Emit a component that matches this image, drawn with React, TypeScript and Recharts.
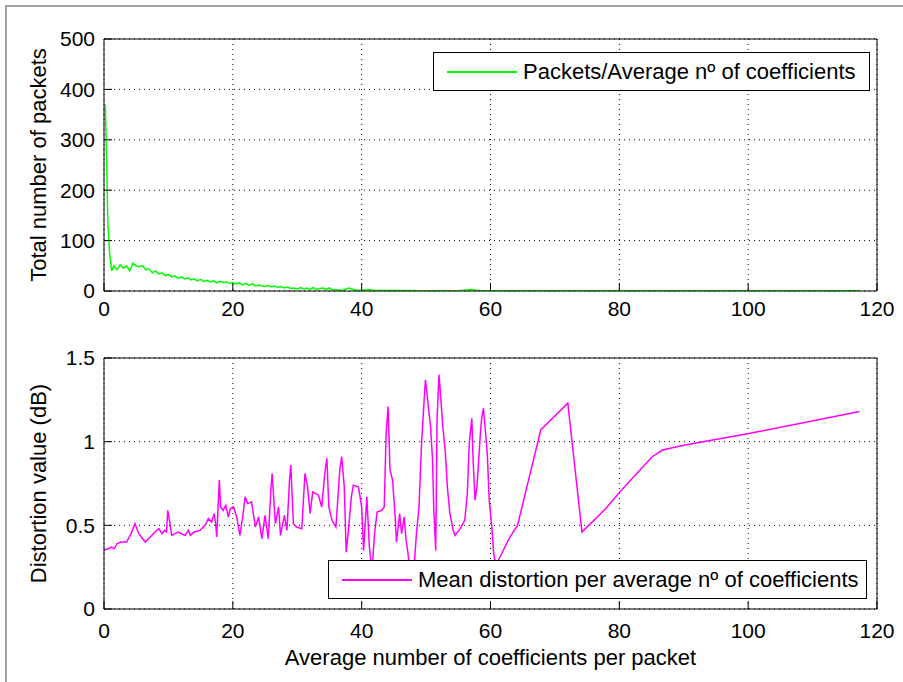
import { CartesianGrid, Line, LineChart, XAxis, YAxis } from "recharts";

const FONT = "'Liberation Sans', Arial, Helvetica, sans-serif";

const xTicks = [0, 20, 40, 60, 80, 100, 120];
const packetTicks = [0, 100, 200, 300, 400, 500];
const distortionTicks = [0, 0.5, 1, 1.5];

// top panel: packets per average number of coefficients
const packetX = [
  0.2, 0.4, 0.6, 0.9, 1.2, 1.5, 2, 2.5, 3, 3.5, 4, 4.5, 5, 5.5, 6, 6.5, 7, 7.5, 8, 8.5,
  9, 9.5, 10, 10.5, 11, 11.5, 12, 12.5, 13, 13.5, 14, 14.5, 15, 15.5, 16, 16.5, 17, 17.5, 18, 18.5,
  19, 19.5, 20, 20.5, 21, 21.5, 22, 22.5, 23, 23.5, 24, 24.5, 25, 25.5, 26, 26.5, 27, 27.5, 28, 28.5,
  29, 29.5, 30, 30.5, 31, 31.5, 32, 32.5, 33, 33.5, 34, 34.5, 35, 35.5, 36, 37, 38, 39, 40, 41,
  42, 45, 50, 55, 57, 58, 60, 70, 80, 90, 100, 117.2,
];
const packetY = [
  370, 260, 135, 70, 40, 50, 42, 52, 45, 50, 40, 55, 50, 48, 50, 42, 44, 36, 40, 34,
  36, 30, 33, 28, 30, 25, 28, 24, 26, 22, 24, 20, 23, 19, 21, 18, 20, 16, 19, 17,
  18, 15, 17, 14, 16, 12, 15, 11, 14, 10, 12, 10, 9, 11, 8, 10, 7, 9, 6, 8,
  5, 6, 4, 7, 4, 6, 3, 7, 3, 5, 6, 3, 6, 2, 3, 1, 6, 2, 1, 3,
  1, 1, 0.5, 0.5, 3, 1, 0.5, 0.5, 0.3, 0.3, 0.3, 0.3,
];

// bottom panel: mean distortion per average number of coefficients
const distortionX = [
  0, 0.6, 1.2, 1.6, 2, 2.6, 3.5, 4.2, 4.8, 5.4, 6.4, 7.2, 7.9, 8.5, 9, 9.4, 9.7, 9.9, 10.2, 10.5,
  11, 11.5, 12, 12.6, 13.1, 13.4, 14, 14.9, 15.7, 16.2, 16.7, 17.1, 17.3, 17.5, 17.9, 18.1, 18.5, 18.9, 19.3, 19.6,
  20.1, 20.6, 21.1, 21.6, 21.9, 22.3, 22.9, 23.5, 24, 24.5, 25, 25.5, 25.9, 26.1, 26.6, 27.1, 27.4, 28, 28.4, 28.8,
  29, 29.4, 29.9, 30.7, 31.2, 31.6, 32, 32.4, 33.3, 33.8, 34.3, 34.6, 34.9, 35.4, 36, 36.6, 36.9, 37.3, 37.6, 37.9,
  38.4, 38.7, 39.5, 40, 40.3, 40.8, 41.2, 41.6, 42, 42.4, 43.1, 43.5, 43.8, 44.1, 44.4, 44.8, 45.2, 45.4, 45.9, 46.2,
  46.6, 46.9, 47.2, 47.5, 48, 48.5, 48.9, 49.3, 49.7, 49.9, 50.1, 50.4, 50.7, 51, 51.2, 51.5, 51.7, 52, 52.3, 52.6,
  53, 53.3, 53.7, 54.2, 54.5, 55.3, 56, 56.4, 56.7, 57.1, 57.3, 57.6, 57.9, 58.1, 58.4, 58.6, 58.9, 59.2, 59.5, 59.8,
  60.2, 60.5, 60.8, 61.2, 63, 64.2, 67.8, 72, 74.2, 77.9, 80.1, 85.1, 86.7, 90.2, 100.3, 117.3,
];
const distortionY = [
  0.35, 0.36, 0.37, 0.36, 0.39, 0.4, 0.4, 0.45, 0.51, 0.45, 0.4, 0.43, 0.46, 0.48, 0.45, 0.47, 0.46, 0.59, 0.52, 0.44,
  0.45, 0.46, 0.45, 0.44, 0.47, 0.44, 0.46, 0.47, 0.5, 0.54, 0.52, 0.57, 0.52, 0.43, 0.77, 0.61, 0.59, 0.62, 0.55, 0.6,
  0.61, 0.55, 0.44, 0.57, 0.67, 0.63, 0.64, 0.49, 0.55, 0.42, 0.56, 0.42, 0.71, 0.81, 0.51, 0.61, 0.44, 0.56, 0.47, 0.77,
  0.86, 0.51, 0.49, 0.48, 0.81, 0.73, 0.57, 0.7, 0.68, 0.61, 0.82, 0.9, 0.61, 0.53, 0.49, 0.83, 0.91, 0.73, 0.34, 0.45,
  0.67, 0.74, 0.73, 0.61, 0.35, 0.67, 0.37, 0.22, 0.45, 0.58, 0.59, 0.61, 1.05, 1.21, 0.83, 0.77, 0.55, 0.4, 0.57, 0.45,
  0.55, 0.41, 0.33, 0.22, 0.18, 0.45, 0.61, 0.99, 1.25, 1.37, 1.3, 1.19, 1.09, 0.89, 0.59, 0.35, 1.13, 1.4, 1.25, 1.09,
  0.93, 0.73, 0.57, 0.47, 0.44, 0.48, 0.53, 0.69, 0.99, 1.14, 0.89, 0.65, 0.73, 0.85, 1.03, 1.13, 1.2, 1.07, 0.93, 0.65,
  0.49, 0.33, 0.27, 0.29, 0.43, 0.5, 1.07, 1.23, 0.46, 0.6, 0.7, 0.91, 0.95, 0.98, 1.05, 1.18,
];

const packetData = packetX.map((x, i) => ({ x, y: packetY[i] }));
const distortionData = distortionX.map((x, i) => ({ x, y: distortionY[i] }));

function BottomTick(props: any) {
  const { x, y, payload, gap } = props;
  const axisY = y - gap;
  return (
    <g>
      <line x1={x} y1={axisY} x2={x} y2={axisY - 8} stroke="#000" />
      <text x={x} y={y} dy="0.71em" textAnchor="middle" fontSize={21} fill="#000" fontFamily={FONT}>
        {payload.value}
      </text>
    </g>
  );
}

function LeftTick(props: any) {
  const { x, y, payload, gap } = props;
  const axisX = x + gap;
  return (
    <g>
      <line x1={axisX} y1={y} x2={axisX + 8} y2={y} stroke="#000" />
      <text x={x} y={y} dy="0.35em" textAnchor="end" fontSize={21} fill="#000" fontFamily={FONT}>
        {payload.value}
      </text>
    </g>
  );
}

function Panel(props: {
  data: { x: number; y: number }[];
  color: string;
  yDomain: [number, number];
  yTicks: number[];
  height: number;
  top: number;
  xAxisHeight: number;
  xGap: number;
  yLabel: string;
  xLabel?: string;
}) {
  const { data, color, yDomain, yTicks, height, top, xAxisHeight, xGap, yLabel, xLabel } = props;
  return (
    <LineChart width={903} height={height} data={data} margin={{ top, right: 26, bottom: 0, left: 0 }}>
      <CartesianGrid xAxisId="x" yAxisId="y" stroke="#000" strokeDasharray="1 4" />
      <XAxis
        xAxisId="x"
        dataKey="x"
        type="number"
        domain={[0, 120]}
        ticks={xTicks}
        allowDataOverflow
        height={xAxisHeight}
        stroke="#000"
        tickLine={false}
        tickSize={0}
        tickMargin={xGap}
        tick={(p: any) => <BottomTick {...p} gap={xGap} />}
        label={
          xLabel
            ? { value: xLabel, position: "insideBottom", offset: 17, fill: "#000", fontSize: 22, fontFamily: FONT }
            : undefined
        }
      />
      <XAxis
        xAxisId="xt"
        dataKey="x"
        type="number"
        orientation="top"
        mirror
        domain={[0, 120]}
        ticks={xTicks}
        allowDataOverflow
        stroke="#000"
        tick={false}
        tickSize={8}
      />
      <YAxis
        yAxisId="y"
        type="number"
        domain={yDomain}
        ticks={yTicks}
        allowDataOverflow
        width={104}
        stroke="#000"
        tickLine={false}
        tickSize={0}
        tickMargin={9}
        tick={(p: any) => <LeftTick {...p} gap={9} />}
        label={{
          value: yLabel,
          angle: -90,
          position: "insideLeft",
          offset: 38,
          fill: "#000",
          fontSize: 22,
          fontFamily: FONT,
          style: { textAnchor: "middle" },
        }}
      />
      <YAxis
        yAxisId="yr"
        type="number"
        orientation="right"
        mirror
        domain={yDomain}
        ticks={yTicks}
        allowDataOverflow
        stroke="#000"
        tick={false}
        tickSize={8}
      />
      <Line
        xAxisId="x"
        yAxisId="y"
        type="linear"
        dataKey="y"
        stroke={color}
        strokeWidth={1.5}
        dot={false}
        isAnimationActive={false}
      />
    </LineChart>
  );
}

function LegendBox(props: { text: string; color: string; left: number; top: number; width: number }) {
  const { text, color, left, top, width } = props;
  return (
    <div
      style={{
        position: "absolute",
        left,
        top,
        width,
        height: 39,
        boxSizing: "border-box",
        border: "1px solid #000",
        background: "#fff",
        display: "flex",
        alignItems: "center",
        fontFamily: FONT,
        fontSize: 22,
        color: "#000",
        whiteSpace: "nowrap",
      }}
    >
      <div style={{ width: 70, height: 0, borderTop: `2px solid ${color}`, marginLeft: 13, marginRight: 6 }} />
      <span>{text}</span>
    </div>
  );
}

export default function App() {
  return (
    <div style={{ position: "absolute", left: 0, top: 0, width: 903, height: 682, background: "#fff", overflow: "hidden" }}>
      <div
        style={{
          position: "absolute",
          left: 5,
          top: 5,
          right: 0,
          bottom: 0,
          borderTop: "2px solid #a0a0a0",
          borderLeft: "2px solid #a0a0a0",
        }}
      />
      <div style={{ position: "absolute", left: 0, top: 0 }}>
        <Panel
          data={packetData}
          color="#00ff00"
          yDomain={[0, 500]}
          yTicks={packetTicks}
          height={340}
          top={39}
          xAxisHeight={49}
          xGap={10}
          yLabel="Total number of packets"
        />
      </div>
      <div style={{ position: "absolute", left: 0, top: 340 }}>
        <Panel
          data={distortionData}
          color="#ff00ff"
          yDomain={[0, 1.5]}
          yTicks={distortionTicks}
          height={342}
          top={18}
          xAxisHeight={73}
          xGap={14}
          yLabel="Distortion value (dB)"
          xLabel="Average number of coefficients per packet"
        />
      </div>
      <LegendBox text="Packets/Average nº of coefficients" color="#00ff00" left={433} top={52} width={437} />
      <LegendBox
        text="Mean distortion per average nº of coefficients"
        color="#ff00ff"
        left={328}
        top={560}
        width={539}
      />
    </div>
  );
}
